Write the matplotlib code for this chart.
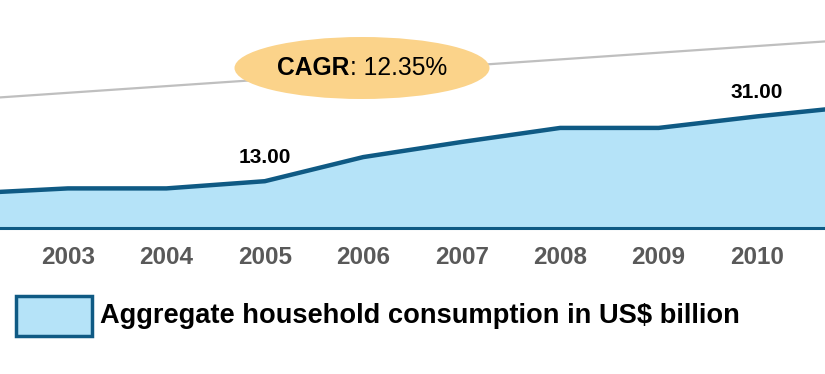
import matplotlib
matplotlib.use("Agg")
import matplotlib.pyplot as plt
from matplotlib.patches import Ellipse, Rectangle

plt.rcParams['font.family'] = ['Liberation Sans', 'DejaVu Sans']

years = [2002, 2003, 2004, 2005, 2006, 2007, 2008, 2009, 2010, 2011]
consumption = [9.6, 11.0, 11.0, 13.0, 19.7, 23.9, 27.8, 27.8, 31.0, 33.8]
tick_years = [2003, 2004, 2005, 2006, 2007, 2008, 2009, 2010]
tick_labels = [str(y) for y in tick_years]
label_years = [2005, 2010]
label_values = [13.00, 31.00]
trend_x = [2002, 2011]
trend_y = [35.7, 52.4]
cagr_bold = "CAGR"
cagr_rest = ": 12.35%"
legend_label = "Aggregate household consumption in US$ billion"

line_c = '#0f5a84'
fill_c = '#b5e3f8'

W, H = 825, 374
fig = plt.figure(figsize=(W / 100, H / 100), dpi=100)
base_y = 228
ax = fig.add_axes([0, 1 - base_y / H, 1, base_y / H])
ax.set_xlim(2002.31, 2010.69)
ax.set_ylim(0, base_y / 3.6)

ax.plot(trend_x, trend_y, color='#bfbfbf', lw=1.6, zorder=1)
ax.fill_between(years, consumption, 0, color=fill_c, lw=0, zorder=2)
ax.plot(years, consumption, color=line_c, lw=3.2, zorder=3, solid_joinstyle='round')
ax.axhline(0, color=line_c, lw=2.2, zorder=4, clip_on=False)

for x, v in zip(label_years, label_values):
    ax.annotate(f"{v:.2f}", (x, v), xytext=(0, 17), textcoords='offset points',
                ha='center', va='center', fontsize=15, fontweight='bold', color='black')

for s in ax.spines.values():
    s.set_visible(False)
ax.set_yticks([])
ax.set_xticks(tick_years)
ax.set_xticklabels(tick_labels, fontsize=17.5, fontweight='bold', color='#595959')
ax.tick_params(axis='x', length=0, pad=13)

# CAGR ellipse
ell = Ellipse((362 / W, 1 - 68 / base_y), 255 / W, 62 / base_y, transform=ax.transAxes,
              facecolor='#fbd38a', edgecolor='none', zorder=5)
ax.add_patch(ell)
r = fig.canvas.get_renderer()
t1 = fig.text(0, 0, cagr_bold, fontsize=17.7, fontweight='bold', color='black', va='center', ha='left', zorder=6)
t2 = fig.text(0, 0, cagr_rest, fontsize=17.7, color='black', va='center', ha='left', zorder=6)
w1 = t1.get_window_extent(r).width
w2 = t2.get_window_extent(r).width
cx, cy = 362, H - 68
x0 = cx - (w1 + w2) / 2
t1.set_position((x0 / W, cy / H))
t2.set_position(((x0 + w1) / W, cy / H))

# legend
fig.patches.append(Rectangle((16 / W, 1 - 336 / H), 76 / W, 40 / H, transform=fig.transFigure,
                             facecolor=fill_c, edgecolor=line_c, lw=2.5))
fig.text(100 / W, 1 - 316 / H, legend_label, fontsize=19.6, fontweight='bold',
         color='black', va='center', ha='left')

fig.savefig('out.png', dpi=100)
